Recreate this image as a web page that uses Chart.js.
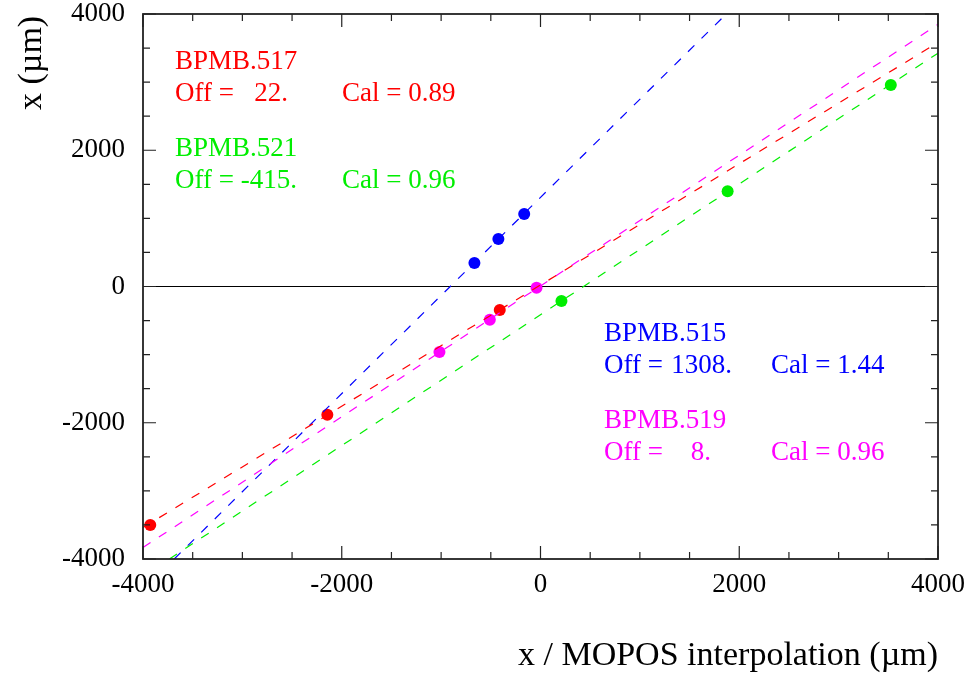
<!DOCTYPE html>
<html>
<head>
<meta charset="utf-8">
<script src="https://cdn.jsdelivr.net/npm/chart.js@4.4.1/dist/chart.umd.min.js"></script>
<style>
  html, body { margin: 0; padding: 0; background: #fff; }
  #wrap { width: 969px; height: 675px; }
</style>
</head>
<body>
<div id="wrap"><canvas id="calib-chart" width="969" height="675"></canvas></div>
<script>
// measured points (x from MOPOS interpolation, x from BPM), in um
const bpm515X = [-665, -424, -164];
const bpm515Y = [345, 697, 1065];
const bpm517X = [-3927, -2145, -410];
const bpm517Y = [-3502, -1883, -345];
const bpm519X = [-1017, -510, -40];
const bpm519Y = [-962, -487, -20];
const bpm521X = [211, 1883, 3525];
const bpm521Y = [-213, 1398, 2959];

// fitted lines, end points read where they leave the frame
const fit515X = [-3686, 1869];
const fit515Y = [-4000, 4000];
const fit517X = [-4000, 4000];
const fit517Y = [-3538, 3582];
const fit519X = [-4000, 4000];
const fit519Y = [-3832, 3848];
const fit521X = [-3734, 4000];
const fit521Y = [-4000, 3425];

const bpmNames = ['BPMB.517', 'BPMB.521', 'BPMB.515', 'BPMB.519'];
const bpmOffsets = ['22.', '-415.', '1308.', '8.'];
const bpmCals = ['0.89', '0.96', '1.44', '0.96'];

const axisTicks = [-4000, -2000, 0, 2000, 4000];

const FONT = '"Liberation Serif", "Times New Roman", serif';

function toPoints(xs, ys) {
    return xs.map((x, i) => ({ x: x, y: ys[i] }));
}

function fitLine(xs, ys, color) {
    return {
        type: 'line',
        data: toPoints(xs, ys),
        borderColor: color,
        borderWidth: 1.2,
        borderDash: [9, 10],
        pointRadius: 0,
        fill: false,
        showLine: true
    };
}

function markers(xs, ys, color) {
    return {
        type: 'scatter',
        data: toPoints(xs, ys),
        backgroundColor: color,
        borderColor: color,
        borderWidth: 0,
        pointRadius: 6,
        pointHoverRadius: 6
    };
}

// zero line, frame with inward ticks, titles and fit labels
const framePlugin = {
    id: 'frame',
    beforeDatasetsDraw(chart) {
        const ctx = chart.ctx;
        const area = chart.chartArea;
        const y0 = chart.scales.y.getPixelForValue(0);
        ctx.save();
        ctx.strokeStyle = '#000';
        ctx.lineWidth = 1.2;
        ctx.beginPath();
        ctx.moveTo(area.left, y0);
        ctx.lineTo(area.right, y0);
        ctx.stroke();
        ctx.restore();
    },
    afterDraw(chart) {
        const ctx = chart.ctx;
        const area = chart.chartArea;
        const xs = chart.scales.x;
        const ys = chart.scales.y;
        ctx.save();
        ctx.strokeStyle = '#222';
        ctx.lineWidth = 1.8;
        ctx.strokeRect(area.left, area.top, area.right - area.left, area.bottom - area.top);

        ctx.lineWidth = 1.2;
        ctx.beginPath();
        for (let v = -4000; v <= 4000; v += 500) {
            const len = v % 2000 === 0 ? 13 : 7;
            const px = xs.getPixelForValue(v);
            const py = ys.getPixelForValue(v);
            ctx.moveTo(px, area.bottom);
            ctx.lineTo(px, area.bottom - len);
            ctx.moveTo(px, area.top);
            ctx.lineTo(px, area.top + len);
            ctx.moveTo(area.left, py);
            ctx.lineTo(area.left + len, py);
            ctx.moveTo(area.right, py);
            ctx.lineTo(area.right - len, py);
        }
        ctx.stroke();

        // axis titles
        ctx.fillStyle = '#000';
        ctx.font = '34px ' + FONT;
        ctx.textAlign = 'right';
        ctx.textBaseline = 'alphabetic';
        ctx.fillText('x / MOPOS interpolation (\u00b5m)', area.right, 665);
        ctx.save();
        ctx.translate(41, 110);
        ctx.rotate(-Math.PI / 2);
        ctx.textAlign = 'left';
        ctx.fillText('x (\u00b5m)', 0, 0);
        ctx.restore();

        // fit results
        const colors = ['#ff0000', '#00ee00', '#0000ff', '#ff00ff'];
        const spots = [
            { x: 175, y: 69, num: 288, cal: 342 },
            { x: 175, y: 156, num: 297, cal: 342 },
            { x: 604, y: 341, num: 732, cal: 771 },
            { x: 604, y: 428, num: 711, cal: 771 }
        ];
        ctx.font = '27px ' + FONT;
        bpmNames.forEach((name, i) => {
            const s = spots[i];
            ctx.fillStyle = colors[i];
            ctx.textAlign = 'left';
            ctx.fillText(name, s.x, s.y);
            ctx.fillText('Off =', s.x, s.y + 32);
            ctx.fillText('Cal = ' + bpmCals[i], s.cal, s.y + 32);
            ctx.textAlign = 'right';
            ctx.fillText(bpmOffsets[i], s.num, s.y + 32);
        });
        ctx.restore();
    }
};

new Chart(document.getElementById('calib-chart').getContext('2d'), {
    type: 'scatter',
    data: {
        datasets: [
            fitLine(fit517X, fit517Y, '#ff0000'),
            fitLine(fit519X, fit519Y, '#ff00ff'),
            fitLine(fit521X, fit521Y, '#00ee00'),
            fitLine(fit515X, fit515Y, '#0000ff'),
            markers(bpm517X, bpm517Y, '#ff0000'),
            markers(bpm519X, bpm519Y, '#ff00ff'),
            markers(bpm521X, bpm521Y, '#00ee00'),
            markers(bpm515X, bpm515Y, '#0000ff')
        ]
    },
    options: {
        responsive: false,
        animation: false,
        devicePixelRatio: 1,
        layout: { padding: { top: 14, right: 31, bottom: 0, left: 0 } },
        plugins: {
            legend: { display: false },
            tooltip: { enabled: false }
        },
        scales: {
            x: {
                type: 'linear',
                min: -4000,
                max: 4000,
                afterBuildTicks: (scale) => { scale.ticks = axisTicks.map(v => ({ value: v })); },
                afterFit: (scale) => {
                    scale.height = 116;
                    scale.paddingLeft = 0;
                    scale.paddingRight = 0;
                },
                grid: { display: false, drawTicks: false },
                border: { display: false },
                ticks: {
                    color: '#000',
                    padding: 12,
                    maxRotation: 0,
                    callback: (v) => String(v),
                    font: { family: FONT, size: 27, lineHeight: 1 }
                }
            },
            y: {
                type: 'linear',
                min: -4000,
                max: 4000,
                afterBuildTicks: (scale) => { scale.ticks = axisTicks.map(v => ({ value: v })); },
                afterFit: (scale) => {
                    scale.width = 143;
                    scale.paddingTop = 0;
                    scale.paddingBottom = 0;
                },
                grid: { display: false, drawTicks: false },
                border: { display: false },
                ticks: {
                    color: '#000',
                    padding: 18,
                    callback: (v) => String(v),
                    font: { family: FONT, size: 27, lineHeight: 1 }
                }
            }
        }
    },
    plugins: [framePlugin]
});
</script>
</body>
</html>
